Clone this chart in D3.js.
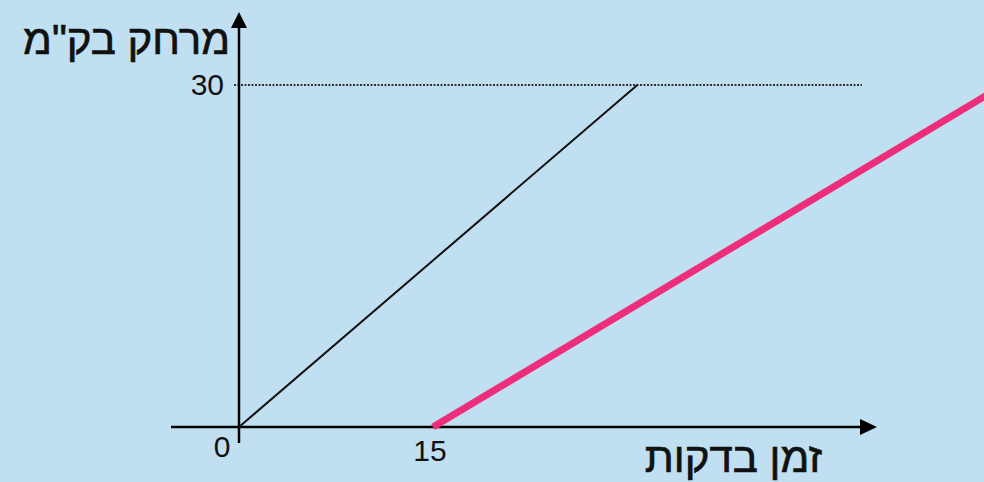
<!DOCTYPE html>
<html lang="he">
<head>
<meta charset="utf-8">
<script src="https://cdn.jsdelivr.net/npm/d3@7"></script>
<style>
  html, body { margin: 0; padding: 0; background: #c0dff0; }
  svg { display: block; }
  text { font-family: "Liberation Sans", Arial, sans-serif; fill: #111; }
</style>
</head>
<body>
<div id="chart"></div>
<script>
// data: minutes vs km
var blackLine = [[0, 0], [30.8, 30]];
var pinkLine = [[15, 0], [60, 30.6]];
var xTicks = [0, 15];
var yTicks = [30];
var xTitle = "זמן בדקות";
var yTitle = "מרחק בק\"מ";

var width = 984, height = 482;

// 0 sits at the y axis, 15 minutes ~194px further right
var x = d3.scaleLinear().domain([0, 60]).range([239, 1015]);
var y = d3.scaleLinear().domain([0, 30]).range([427, 85]);

var svg = d3.select("#chart")
  .append("svg")
  .attr("width", width)
  .attr("height", height);

svg.append("rect")
  .attr("width", width)
  .attr("height", height)
  .attr("fill", "#c0dff0");

// dotted guide at the top value
svg.selectAll(".guide")
  .data(yTicks)
  .enter()
  .append("line")
  .attr("x1", x(0) - 5)
  .attr("x2", 862)
  .attr("y1", function(d) { return y(d); })
  .attr("y2", function(d) { return y(d); })
  .attr("stroke", "#333")
  .attr("stroke-width", 2)
  .attr("stroke-dasharray", "2,1.5");

// axes
svg.append("line")
  .attr("x1", 171).attr("x2", 862)
  .attr("y1", y(0)).attr("y2", y(0))
  .attr("stroke", "#000").attr("stroke-width", 2.5);

svg.append("line")
  .attr("x1", x(0)).attr("x2", x(0))
  .attr("y1", 443).attr("y2", 26)
  .attr("stroke", "#000").attr("stroke-width", 2.5);

// arrow heads
svg.append("path")
  .attr("d", "M" + 877 + "," + y(0) + "L" + 860 + "," + (y(0) - 8) + "L" + 860 + "," + (y(0) + 8) + "Z")
  .attr("fill", "#000");
svg.append("path")
  .attr("d", "M" + x(0) + "," + 12 + "L" + (x(0) - 8) + "," + 28 + "L" + (x(0) + 8) + "," + 28 + "Z")
  .attr("fill", "#000");

var line = d3.line()
  .x(function(d) { return x(d[0]); })
  .y(function(d) { return y(d[1]); });

svg.append("path")
  .datum(blackLine)
  .attr("d", line)
  .attr("fill", "none")
  .attr("stroke", "#111")
  .attr("stroke-width", 2);

svg.append("path")
  .datum(pinkLine)
  .attr("d", line)
  .attr("fill", "none")
  .attr("stroke", "#ee2e7a")
  .attr("stroke-width", 7);

// tick labels
svg.selectAll(".xtick")
  .data(xTicks)
  .enter()
  .append("text")
  .attr("x", function(d) { return d === 0 ? x(d) - 17 : x(d) - 3; })
  .attr("y", function(d) { return d === 0 ? 457 : 461; })
  .attr("text-anchor", "middle")
  .attr("font-size", 30)
  .text(function(d) { return d; });

svg.selectAll(".ytick")
  .data(yTicks)
  .enter()
  .append("text")
  .attr("x", x(0) - 15)
  .attr("y", function(d) { return y(d) + 10; })
  .attr("text-anchor", "end")
  .attr("font-size", 30)
  .text(function(d) { return d; });

// axis titles
svg.append("text")
  .attr("x", 822)
  .attr("y", 472)
  .attr("text-anchor", "end")
  .attr("font-size", 42)
  .attr("stroke", "#111")
  .attr("stroke-width", 0.7)
  .text(xTitle);

svg.append("text")
  .attr("x", 230)
  .attr("y", 54)
  .attr("text-anchor", "end")
  .attr("font-size", 42)
  .attr("stroke", "#111")
  .attr("stroke-width", 0.7)
  .text(yTitle);
</script>
</body>
</html>
